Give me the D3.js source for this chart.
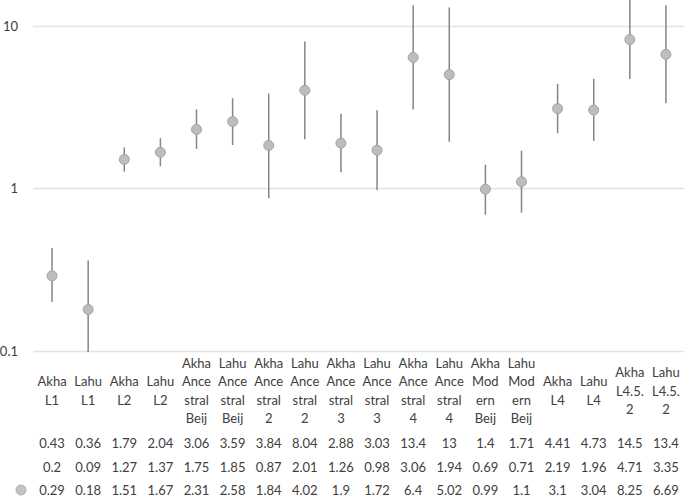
<!DOCTYPE html>
<html>
<head>
<meta charset="utf-8">
<script src="https://cdn.jsdelivr.net/npm/d3@7"></script>
<style>
  body { margin: 0; background: #fff; }
  text { font-family: Lato, "Open Sans", sans-serif; }
</style>
</head>
<body>
<script>
// categories as in the table header, and how Excel wrapped them in the narrow columns
const categories = ["Akha L1", "Lahu L1", "Akha L2", "Lahu L2", "Akha Ancestral Beij", "Lahu Ancestral Beij",
  "Akha Ancestral 2", "Lahu Ancestral 2", "Akha Ancestral 3", "Lahu Ancestral 3", "Akha Ancestral 4", "Lahu Ancestral 4",
  "Akha Modern Beij", "Lahu Modern Beij", "Akha L4", "Lahu L4", "Akha L4.5.2", "Lahu L4.5.2"];
const labelLines = [
  ["Akha", "L1"], ["Lahu", "L1"], ["Akha", "L2"], ["Lahu", "L2"],
  ["Akha", "Ance", "stral", "Beij"], ["Lahu", "Ance", "stral", "Beij"],
  ["Akha", "Ance", "stral", "2"], ["Lahu", "Ance", "stral", "2"],
  ["Akha", "Ance", "stral", "3"], ["Lahu", "Ance", "stral", "3"],
  ["Akha", "Ance", "stral", "4"], ["Lahu", "Ance", "stral", "4"],
  ["Akha", "Mod", "ern", "Beij"], ["Lahu", "Mod", "ern", "Beij"],
  ["Akha", "L4"], ["Lahu", "L4"], ["Akha", "L4.5.", "2"], ["Lahu", "L4.5.", "2"]
];
const upper = ["0.43", "0.36", "1.79", "2.04", "3.06", "3.59", "3.84", "8.04", "2.88", "3.03", "13.4", "13", "1.4", "1.71", "4.41", "4.73", "14.5", "13.4"];
const lower = ["0.2", "0.09", "1.27", "1.37", "1.75", "1.85", "0.87", "2.01", "1.26", "0.98", "3.06", "1.94", "0.69", "0.71", "2.19", "1.96", "4.71", "3.35"];
const values = ["0.29", "0.18", "1.51", "1.67", "2.31", "2.58", "1.84", "4.02", "1.9", "1.72", "6.4", "5.02", "0.99", "1.1", "3.1", "3.04", "8.25", "6.69"];
const yTicks = [0.1, 1, 10];

const width = 685, height = 497;
const n = categories.length;

const x = d3.scaleBand()
  .domain(categories)
  .range([34, 684]);

const y = d3.scaleLog()
  .domain([0.1, 14.45])
  .range([351, 0]);

const svg = d3.select("body").append("svg")
  .attr("width", width)
  .attr("height", height);

svg.append("defs").append("clipPath").attr("id", "plot")
  .append("rect").attr("x", 0).attr("y", y.range()[1]).attr("width", width).attr("height", y.range()[0] - y.range()[1] + 1);

// gridlines
svg.append("g")
  .selectAll("line")
  .data(yTicks)
  .join("line")
    .attr("x1", 33)
    .attr("x2", 684)
    .attr("y1", d => Math.round(y(d)) + 0.5)
    .attr("y2", d => Math.round(y(d)) + 0.5)
    .attr("stroke", "#e3e3e3")
    .attr("stroke-width", 1.5);

svg.append("g")
  .style("font-size", "13px")
  .attr("fill", "#404040")
  .selectAll("text")
  .data(yTicks)
  .join("text")
    .attr("x", 18)
    .attr("y", d => y(d))
    .attr("dy", "0.35em")
    .attr("text-anchor", "end")
    .text(d => String(d));

const cx = i => x(categories[i]) + x.bandwidth() / 2;

const plot = svg.append("g").attr("clip-path", "url(#plot)");

plot.append("g")
  .selectAll("line")
  .data(d3.range(n))
  .join("line")
    .attr("x1", cx)
    .attr("x2", cx)
    .attr("y1", i => y(+lower[i]))
    .attr("y2", i => y(+upper[i]))
    .attr("stroke", "#858585")
    .attr("stroke-width", 1.5);

plot.append("g")
  .selectAll("circle")
  .data(d3.range(n))
  .join("circle")
    .attr("cx", cx)
    .attr("cy", i => y(+values[i]))
    .attr("r", 5)
    .attr("fill", "#bdbdbd")
    .attr("stroke", "#a3a3a3")
    .attr("stroke-width", 1);

// data table under the plot
const fs = "13px";
const lineH = 18.5;
const headMid = 391;
const header = svg.append("g")
  .style("font-size", fs)
  .attr("fill", "#404040")
  .attr("text-anchor", "middle");

labelLines.forEach((lines, i) => {
  const t = header.append("text")
    .attr("x", cx(i))
    .attr("y", headMid - (lines.length - 1) * lineH / 2);
  lines.forEach((s, k) => {
    t.append("tspan")
      .attr("x", cx(i))
      .attr("dy", k === 0 ? "0.35em" : lineH)
      .text(s);
  });
});

const rows = [upper, lower, values];
const rowY = [443, 467, 490];
rows.forEach((row, r) => {
  svg.append("g")
    .style("font-size", fs)
    .attr("fill", "#404040")
    .attr("text-anchor", "middle")
    .selectAll("text")
    .data(row)
    .join("text")
      .attr("x", (d, i) => cx(i))
      .attr("y", rowY[r])
      .attr("dy", "0.35em")
      .text(d => d);
});

// legend key for the value row
svg.append("circle")
  .attr("cx", 21)
  .attr("cy", rowY[2])
  .attr("r", 5)
  .attr("fill", "#c4c4c4")
  .attr("stroke", "#b0b0b0");
</script>
</body>
</html>
